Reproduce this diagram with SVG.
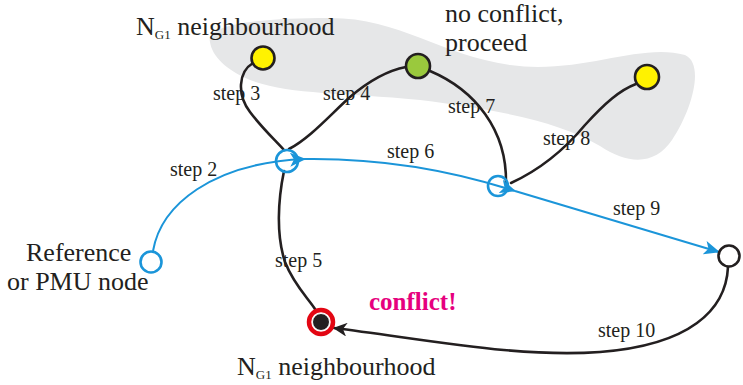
<svg xmlns="http://www.w3.org/2000/svg" width="743" height="385" viewBox="0 0 743 385">
  <style>
    .lbl { font-family: "Liberation Serif", "Times New Roman", serif; fill: #231f20; }
    .step { font-size: 20px; }
    .big { font-size: 26px; }
    .sub { font-size: 13px; }
    .edge { fill: none; stroke: #231f20; stroke-width: 2.6; stroke-linecap: round; }
    .blue { fill: none; stroke: #1b95d9; stroke-width: 2; }
    .bnode { fill: none; stroke: #1b95d9; stroke-width: 2.6; }
    .knode { stroke: #231f20; stroke-width: 2.6; }
  </style>
  <defs>
    <marker id="arrBlue" markerUnits="userSpaceOnUse" viewBox="0 0 16 14" markerWidth="16" markerHeight="14" refX="15" refY="7" orient="auto">
      <path d="M0,0 L16,7 L0,14 L4,7 Z" fill="#1b95d9"/>
    </marker>
    <marker id="arrBlack" markerUnits="userSpaceOnUse" viewBox="0 0 14 14" markerWidth="14" markerHeight="14" refX="13" refY="7" orient="auto">
      <path d="M0,0 L14,7 L0,14 L4,7 Z" fill="#231f20"/>
    </marker>
  </defs>

  <rect width="743" height="385" fill="#ffffff"/>

  <!-- shaded neighbourhood region -->
  <path id="region" d="M 210,42 C 205,24 262,18 330,18 C 400,18 440,55 510,65 C 580,75 640,42 685,55 C 705,64 692,110 672,140 C 656,164 630,166 600,146 C 560,122 500,110 420,100 C 340,92 290,95 250,80 C 226,70 212,56 210,42 Z" fill="#e6e7e8"/>

  <!-- connectors -->
  <g id="connectors">
    <path class="edge" d="M 253,63 C 238,72 237,95 250,112 C 262,128 275,140 284,150"/>
    <path class="edge" d="M 289,149 C 310,138 330,115 350,97 C 370,80 390,70 406,67"/>
    <path class="edge" d="M 430,71 C 475,90 507,130 506,183"/>
    <path class="edge" d="M 511,183 C 535,172 560,155 585,125 C 605,103 620,90 636,84"/>
    <path class="edge" d="M 284,171 C 278,200 276,235 285,262 C 294,285 308,298 315,309"/>
    <path class="edge" d="M 728,267 C 726,310 690,345 600,352 C 520,358 430,340 334,328" marker-end="url(#arrBlack)"/>
    <path class="blue" d="M 153,251 C 161,205 212,163 305,159" marker-end="url(#arrBlue)"/>
    <path class="blue" d="M 305,159 C 380,158 450,170 515,191" marker-end="url(#arrBlue)"/>
    <path class="blue" d="M 515,191 L 719,252" marker-end="url(#arrBlue)"/>
  </g>

  <!-- nodes -->
  <g id="hub"><circle class="bnode" cx="287" cy="161" r="11"/></g>
  <g id="relay"><circle class="bnode" cx="498" cy="186" r="10"/></g>
  <g id="reference"><circle class="bnode" cx="151" cy="262" r="10.5" fill="#ffffff"/></g>
  <g id="yellow-left"><circle class="knode" cx="263" cy="58" r="11.5" fill="#fff200"/></g>
  <g id="green"><circle class="knode" cx="418" cy="66" r="12" fill="#9ac93d"/></g>
  <g id="yellow-right"><circle class="knode" cx="647" cy="77" r="12" fill="#fff200"/></g>
  <g id="target"><circle class="knode" cx="729" cy="256" r="10.5" fill="#ffffff"/></g>
  <g id="conflict-node">
    <circle cx="321" cy="322" r="12" fill="#ffffff" stroke="#e30613" stroke-width="4.5"/>
    <circle cx="321" cy="322" r="8.5" fill="#231f20" stroke="#ffffff" stroke-width="1"/>
  </g>

  <!-- labels -->
  <g id="labels">
    <text class="lbl big" x="136" y="35">N<tspan class="sub" dy="4">G1</tspan><tspan dy="-4"> neighbourhood</tspan></text>
    <text class="lbl big" x="445" y="22">no conflict,</text>
    <text class="lbl big" x="445" y="51">proceed</text>
    <text class="lbl big" x="26" y="261">Reference</text>
    <text class="lbl big" x="7" y="290">or PMU node</text>
    <text class="lbl big" x="237" y="375">N<tspan class="sub" dy="4">G1</tspan><tspan dy="-4"> neighbourhood</tspan></text>
    <text x="369" y="310" font-family="Liberation Serif, serif" font-weight="bold" font-size="25" fill="#e6007e">conflict!</text>
    <text class="lbl step" x="170" y="176">step 2</text>
    <text class="lbl step" x="213" y="100">step 3</text>
    <text class="lbl step" x="323" y="100">step 4</text>
    <text class="lbl step" x="275" y="267">step 5</text>
    <text class="lbl step" x="387" y="158">step 6</text>
    <text class="lbl step" x="448" y="113">step 7</text>
    <text class="lbl step" x="543" y="145">step 8</text>
    <text class="lbl step" x="613" y="215">step 9</text>
    <text class="lbl step" x="598" y="337">step 10</text>
  </g>
</svg>
